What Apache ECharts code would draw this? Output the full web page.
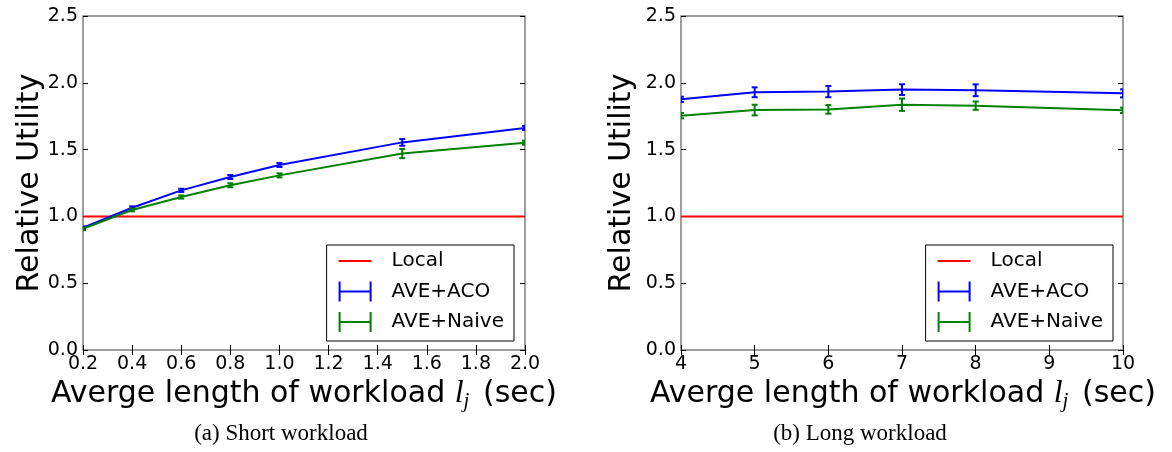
<!DOCTYPE html>
<html>
<head>
<meta charset="utf-8">
<script src="https://cdn.jsdelivr.net/npm/echarts@6/dist/echarts.min.js"></script>
<style>
html,body{margin:0;padding:0;background:#fff;}
#chart{width:1172px;height:452px;}
</style>
</head>
<body>
<div id="chart"></div>
<script>
// ---- Data ----
const shortX = [0.2, 0.4, 0.6, 0.8, 1.0, 1.5, 2.0];
const shortLocal = [1, 1, 1, 1, 1, 1, 1];
const shortACO = [0.915, 1.065, 1.195, 1.295, 1.385, 1.554, 1.662];
const shortACOErr = [0.01, 0.01, 0.012, 0.015, 0.015, 0.025, 0.015];
const shortNaive = [0.908, 1.048, 1.145, 1.233, 1.307, 1.47, 1.552];
const shortNaiveErr = [0.01, 0.01, 0.012, 0.015, 0.015, 0.034, 0.015];

const longX = [4, 5, 6, 7, 8, 10];
const longLocal = [1, 1, 1, 1, 1, 1];
const longACO = [1.876, 1.929, 1.934, 1.949, 1.944, 1.921];
const longACOErr = [0.02, 0.037, 0.042, 0.04, 0.044, 0.03];
const longNaive = [1.754, 1.796, 1.801, 1.836, 1.829, 1.794];
const longNaiveErr = [0.02, 0.04, 0.032, 0.046, 0.031, 0.02];

const yTicks = ['0.0', '0.5', '1.0', '1.5', '2.0', '2.5'];
const seriesNames = ['Local', 'AVE+ACO', 'AVE+Naive'];
const xTitle = 'Averge length of workload ';
const yTitle = 'Relative Utility';
const captions = ['(a) Short workload', '(b) Long workload'];

// ---- Build ----
const RED = '#ff0000', BLUE = '#0000ff', GREEN = '#008000';
const pairs = (xs, ys) => xs.map((x, i) => [x, ys[i]]);
const errs = (xs, ys, es) => xs.map((x, i) => [x, ys[i] - es[i], ys[i] + es[i]]);

function errRender(params, api) {
  const x = api.value(0), lo = api.value(1), hi = api.value(2);
  const p1 = api.coord([x, hi]), p2 = api.coord([x, lo]);
  const w = 3;
  const style = { stroke: api.visual('color'), lineWidth: 2, fill: null };
  return {
    type: 'group',
    children: [
      { type: 'line', shape: { x1: p1[0], y1: p1[1], x2: p2[0], y2: p2[1] }, style },
      { type: 'line', shape: { x1: p1[0] - w, y1: p1[1], x2: p1[0] + w, y2: p1[1] }, style },
      { type: 'line', shape: { x1: p2[0] - w, y1: p2[1], x2: p2[0] + w, y2: p2[1] }, style }
    ]
  };
}

const grids = [
  { left: 83, right: 647, top: 16, bottom: 102 },
  { left: 681, right: 49, top: 16, bottom: 102 }
];
grids.forEach(g => { g.show = true; g.borderColor = '#7f7f7f'; g.borderWidth = 1.5; g.backgroundColor = 'transparent'; });

const tickStyle = { show: true, inside: true, length: 5, lineStyle: { color: '#000', width: 1 } };
const labelFont = { color: '#000', fontFamily: 'DejaVu Sans', fontSize: 19 };
const fmt1 = v => v.toFixed(1);

const xAxes = [], yAxes = [];
const xRanges = [{ min: 0.2, max: 2.0, interval: 0.2, fmt: fmt1 }, { min: 4, max: 10, interval: 1, fmt: v => String(v) }];
xRanges.forEach((r, gi) => {
  xAxes.push({ type: 'value', gridIndex: gi, min: r.min, max: r.max, interval: r.interval, position: 'bottom',
    axisLine: { show: false }, splitLine: { show: false }, axisTick: tickStyle,
    axisLabel: Object.assign({ margin: 5, formatter: r.fmt, showMinLabel: true, showMaxLabel: true }, labelFont) });
  xAxes.push({ type: 'value', gridIndex: gi, min: r.min, max: r.max, interval: r.interval, position: 'top',
    axisLine: { show: false }, splitLine: { show: false }, axisTick: tickStyle, axisLabel: { show: false } });
  yAxes.push({ type: 'value', gridIndex: gi, min: 0, max: 2.5, interval: 0.5, position: 'left',
    axisLine: { show: false }, splitLine: { show: false }, axisTick: tickStyle,
    axisLabel: Object.assign({ margin: 5, formatter: (v) => yTicks[Math.round(v / 0.5)] }, labelFont) });
  yAxes.push({ type: 'value', gridIndex: gi, min: 0, max: 2.5, interval: 0.5, position: 'right',
    axisLine: { show: false }, splitLine: { show: false }, axisTick: tickStyle, axisLabel: { show: false } });
});

const plots = [
  { x: shortX, local: shortLocal, aco: shortACO, acoE: shortACOErr, naive: shortNaive, naiveE: shortNaiveErr },
  { x: longX, local: longLocal, aco: longACO, acoE: longACOErr, naive: longNaive, naiveE: longNaiveErr }
];
// error-bar (custom) series first so that the legend takes its icon from them
const errSeries = [], lineSeries = [];
plots.forEach((p, gi) => {
  const xi = gi * 2, yi = gi * 2;
  const lineBase = { type: 'line', xAxisIndex: xi, yAxisIndex: yi, showSymbol: false, symbol: 'none', animation: false, clip: true };
  lineSeries.push(Object.assign({}, lineBase, { name: seriesNames[0], color: RED, lineStyle: { color: RED, width: 2 }, data: pairs(p.x, p.local), z: 3 }));
  lineSeries.push(Object.assign({}, lineBase, { name: seriesNames[1], color: BLUE, lineStyle: { color: BLUE, width: 2 }, data: pairs(p.x, p.aco), z: 4 }));
  lineSeries.push(Object.assign({}, lineBase, { name: seriesNames[2], color: GREEN, lineStyle: { color: GREEN, width: 2 }, data: pairs(p.x, p.naive), z: 4 }));
  errSeries.push({ type: 'custom', name: seriesNames[1], xAxisIndex: xi, yAxisIndex: yi, color: BLUE, itemStyle: { color: BLUE }, clip: true, animation: false,
    renderItem: errRender, encode: { x: 0, y: [1, 2] }, data: errs(p.x, p.aco, p.acoE), z: 5 });
  errSeries.push({ type: 'custom', name: seriesNames[2], xAxisIndex: xi, yAxisIndex: yi, color: GREEN, itemStyle: { color: GREEN }, clip: true, animation: false,
    renderItem: errRender, encode: { x: 0, y: [1, 2] }, data: errs(p.x, p.naive, p.naiveE), z: 5 });
});
const series = errSeries.concat(lineSeries);

const iconLine = 'path://M0,9 H33 V11 H0 Z';
const iconErr = 'path://M0,0 H2 V9 H31 V0 H33 V20 H31 V11 H2 V20 H0 Z';
function legendAt(rightPx) {
  return {
    orient: 'vertical', right: rightPx, top: 245,
    backgroundColor: '#fff', borderColor: '#000', borderWidth: 1, borderRadius: 0,
    padding: [6, 10, 9, 12], itemGap: 10.5, itemWidth: 33, itemHeight: 20,
    selectedMode: false,
    textStyle: { color: '#000', fontFamily: 'DejaVu Sans', fontSize: 20, lineHeight: 20, padding: [0, 0, 0, 15] },
    data: [
      { name: seriesNames[0], icon: iconLine },
      { name: seriesNames[1], icon: iconErr },
      { name: seriesNames[2], icon: iconErr }
    ]
  };
}

const titleRich = {
  t: { fontFamily: 'DejaVu Sans', fontSize: 30, fill: '#000' },
  i: { fontFamily: 'Liberation Serif', fontStyle: 'italic', fontSize: 32, fill: '#000' },
  s: { fontFamily: 'Liberation Serif', fontStyle: 'italic', fontSize: 21, fill: '#000', padding: [14, 4, 0, 0] }
};
const graphics = [];
[304, 903].forEach(cx => {
  graphics.push({ type: 'text', x: cx, y: 394,
    style: { text: '{t|' + xTitle + '}{i|l}{s|j}{t| (sec)}', rich: titleRich, align: 'center', verticalAlign: 'middle' } });
});
[30, 622].forEach(cx => {
  graphics.push({ type: 'text', x: cx, y: 183, rotation: Math.PI / 2,
    style: { text: yTitle, fontFamily: 'DejaVu Sans', fontSize: 30, fill: '#000', align: 'center', verticalAlign: 'middle' } });
});
[[281, captions[0]], [860, captions[1]]].forEach(([cx, t]) => {
  graphics.push({ type: 'text', x: cx, y: 434,
    style: { text: t, fontFamily: 'Liberation Serif', fontSize: 23, fill: '#000', align: 'center', verticalAlign: 'middle' } });
});

const chart = echarts.init(document.getElementById('chart'), null, { renderer: 'canvas' });
chart.setOption({
  animation: false,
  backgroundColor: '#fff',
  grid: grids,
  xAxis: xAxes,
  yAxis: yAxes,
  legend: [legendAt(658), legendAt(59)],
  series: series,
  graphic: graphics
});
</script>
</body>
</html>
